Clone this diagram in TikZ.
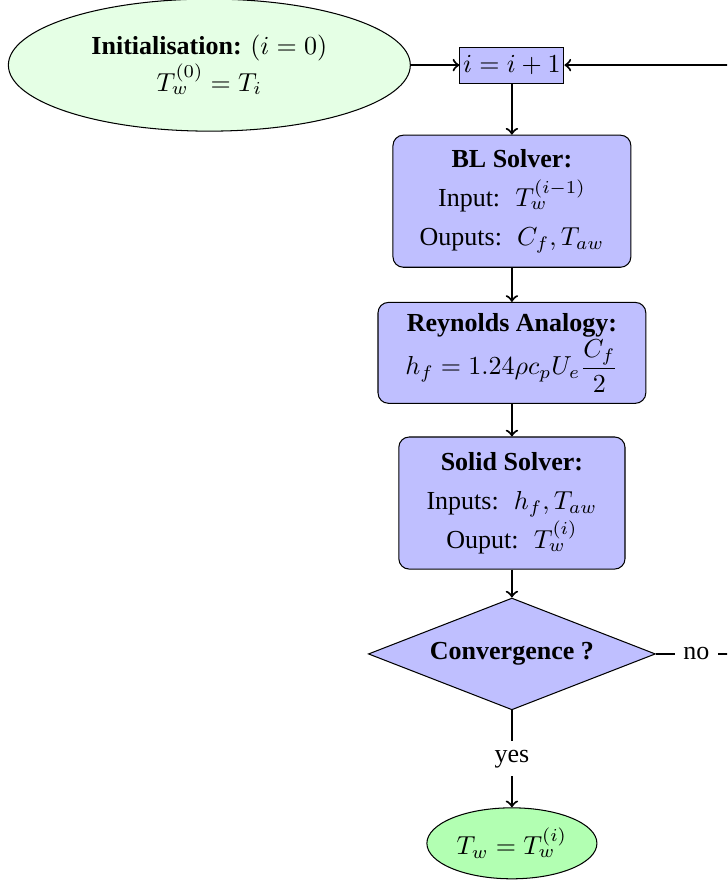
\documentclass[tikz,border=0pt]{standalone}
\usepackage{amsmath}
\usepackage{fontspec}
\setmainfont{Liberation Serif}
\usepackage{tikz}
\usetikzlibrary{shapes.geometric}

\begin{document}
\begin{tikzpicture}[
  block/.style={draw,fill=blue!25,rounded corners=4pt,align=center,inner sep=0pt,
    font=\linespread{1.25}\selectfont},
  startnode/.style={draw,ellipse,fill=green!10,align=center,inner sep=0pt},
  endnode/.style={draw,ellipse,fill=green!30,align=center,inner sep=0pt},
  decision/.style={draw,diamond,aspect=2.5,fill=blue!25,align=center,inner sep=0pt},
  link/.style={thick,->}]
 \clip (0,0) rectangle (9.83,-11.95);
 \node[startnode,minimum width=154.6pt,minimum height=50.8pt] (init) at (2.83,-0.88)
   {\textbf{Initialisation:} $(i=0)$\\ $T_w^{(0)}=T_i$};
 \node[block,rounded corners=0pt,minimum width=40pt,minimum height=13.8pt] (inc) at (6.92,-0.88) {$i=i+1$};
 \node[block,minimum width=91.5pt,minimum height=50.8pt] (bl) at (6.92,-2.72)
   {\textbf{BL Solver:}\\ Input:~ $T_w^{(i-1)}$\\ Ouputs:~ $C_f, T_{aw}$};
 \node[block,minimum width=103pt,minimum height=38.8pt] (reyn) at (6.92,-4.77)
   {\textbf{Reynolds Analogy:}\\ $h_f=1.24\rho c_p U_e \dfrac{C_f}{2}$};
 \node[block,minimum width=87pt,minimum height=50.8pt] (solid) at (6.92,-6.80)
   {\textbf{Solid Solver:}\\ Inputs:~ $h_f, T_{aw}$\\ Ouput:~ $T_w^{(i)}$};
 \node[decision,minimum width=110.4pt,minimum height=43pt] (conv) at (6.92,-8.84) {\textbf{Convergence ?}};
 \node[endnode,minimum width=65.4pt,minimum height=27.3pt] (final) at (6.92,-11.40) {$T_w=T_w^{(i)}$};
 \coordinate (turn) at (9.96,-8.84);

 \draw[link] (init) -- (inc);
 \draw[link] (inc) -- (bl);
 \draw[link] (bl) -- (reyn);
 \draw[link] (reyn) -- (solid);
 \draw[link] (solid) -- (conv);
 \draw[link] (conv) -- node[fill=white]{yes} (final);
 \draw[link] (conv) -- node[fill=white]{no} (turn) |- (inc);
\end{tikzpicture}
\end{document}
